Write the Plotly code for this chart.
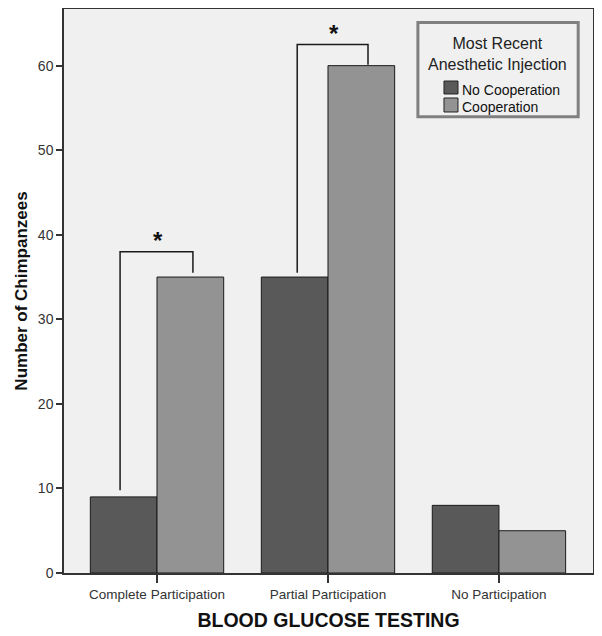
import plotly.graph_objects as go

categories = ['Complete Participation', 'Partial Participation', 'No Participation']
no_cooperation = [9, 35, 8]
cooperation = [35, 60, 5]
y_ticks = [0, 10, 20, 30, 40, 50, 60]

series_names = ['No Cooperation', 'Cooperation']
series_colors = ['#595959', '#939393']

FONT = "Liberation Sans, Arial, sans-serif"

fig = go.Figure()

for name, values, color in zip(series_names, [no_cooperation, cooperation], series_colors):
    fig.add_trace(
        go.Bar(x=categories,
               y=values,
               name=name,
               marker_color=color,
               marker_line=dict(color='#1a1a1a', width=1),
               showlegend=False,
               )
    )

# significance brackets (category index offsets, in bar coordinates)
brackets = [
    # (category index, left offset, right offset, left bottom, top, right bottom)
    (0, -0.216, 0.21, 9.8, 38.0, 35.5),
    (1, -0.18, 0.234, 35.5, 62.5, 60.1),
]
for idx, lo, ro, lb, top, rb in brackets:
    x0 = idx + lo
    x1 = idx + ro
    fig.add_shape(type='path',
                  path=f"M {x0} {lb} L {x0} {top} L {x1} {top} L {x1} {rb}",
                  xref='x', yref='y',
                  line=dict(color='#1a1a1a', width=1.5))
    fig.add_annotation(x=(x0 + x1) / 2 + 0.01, y=top + 1.3, text='<b>*</b>',
                       showarrow=False, yanchor='middle',
                       font=dict(family=FONT, size=24, color='#111111'))

# legend drawn by hand (SPSS style box with centred title)
fig.add_shape(type='rect', xref='paper', yref='paper',
              x0=0.669, x1=0.972, y0=0.809, y1=0.976,
              line=dict(color='#808080', width=3),
              fillcolor='#f0f0f0', layer='above')
fig.add_annotation(xref='paper', yref='paper', x=0.8204, y=0.920,
                   text='Most Recent<br>Anesthetic Injection',
                   showarrow=False, xanchor='center', yanchor='middle',
                   font=dict(family=FONT, size=16, color='#222222'))
swatch_y = [(0.8493, 0.8723), (0.8174, 0.8422)]
text_y = [0.8564, 0.8262]
for name, color, (sy0, sy1), ty in zip(series_names, series_colors, swatch_y, text_y):
    fig.add_shape(type='rect', xref='paper', yref='paper',
                  x0=0.7183, x1=0.7448, y0=sy0, y1=sy1,
                  line=dict(color='#222222', width=1),
                  fillcolor=color, layer='above')
    fig.add_annotation(xref='paper', yref='paper', x=0.7486, y=ty,
                       text=name, showarrow=False,
                       xanchor='left', yanchor='middle',
                       font=dict(family=FONT, size=14, color='#111111'))

# Customize the layout
fig.update_layout(
    barmode='group',
    bargap=0.22,
    bargroupgap=0,
    plot_bgcolor='#f0f0f0',
    paper_bgcolor='white',
    font=dict(family=FONT, size=13, color='#222222'),
    yaxis=dict(title=dict(text='<b>Number of Chimpanzees</b>',
                          font=dict(family=FONT, size=17, color='#111111'),
                          standoff=6),
               range=[0, 66.7],
               tickvals=y_ticks,
               ticks='outside',
               ticklen=6,
               tickwidth=2,
               tickcolor='#333333',
               tickfont=dict(size=14, color='#333333'),
               showgrid=False,
               zeroline=False,
               showline=True,
               linecolor='#333333',
               linewidth=1.5,
               mirror=True,
               automargin=False,
               ),
    xaxis=dict(title=dict(text='<b>BLOOD GLUCOSE TESTING</b>',
                          font=dict(family=FONT, size=19.5, color='#111111'),
                          standoff=12),
               range=[-0.544, 2.55],
               ticks='outside',
               ticklen=8,
               tickwidth=2,
               tickcolor='#333333',
               tickfont=dict(size=13.5, color='#333333'),
               showgrid=False,
               showline=True,
               linecolor='#333333',
               linewidth=1.5,
               mirror=True,
               automargin=False,
               ),
    margin=dict(l=56, r=9, t=1, b=63, pad=0),
    height=628,
    width=594,
)

fig.write_html("out.html")
